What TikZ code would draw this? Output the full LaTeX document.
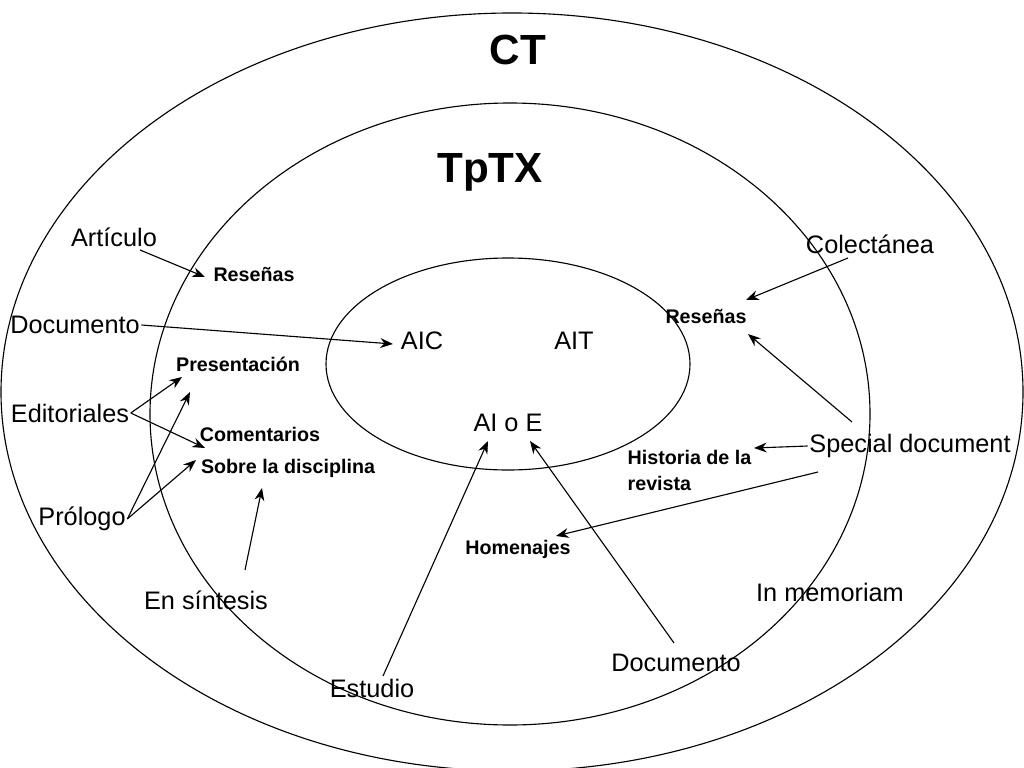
\documentclass[tikz,border=0pt]{standalone}
\usepackage{fontspec}
\setmainfont{Liberation Sans}
\usetikzlibrary{arrows.meta}
\tikzset{
    lbl/.style={font=\fontsize{18}{20}\selectfont, inner sep=1pt},
    sml/.style={font=\bfseries\fontsize{14}{16}\selectfont, inner sep=1pt},
    big/.style={font=\bfseries\fontsize{30}{32}\selectfont},
    arr/.style={-{Stealth[length=9pt,width=7pt]}, thick}
}
\begin{document}
\begin{tikzpicture}[x=0.025cm, y=-0.025cm]

\useasboundingbox (0,0) rectangle (1024,768);

% Circulos
\draw[thick] (512,392) ellipse (511 and 379);
\draw[thick] (510,414) ellipse (360 and 311);
\draw[thick] (508,364) ellipse (182 and 106);

\node[big] (ct) at (518,50) {CT};
\node[big] (tptx) at (490,172) {TpTX};

\node[lbl] (articulo) at (114,237) {Artículo};
\node[sml] (resenasI) at (254,274) {Reseñas};
\node[lbl] (colectanea) at (870,244) {Colectánea};
\node[sml] (resenasD) at (706,316) {Reseñas};
\node[lbl] (docI) at (75,325) {Documento};
\node[lbl] (aic) at (422,341) {AIC};
\node[lbl] (ait) at (574,341) {AIT};
\node[sml] (present) at (238,364) {Presentación};
\node[lbl] (editoriales) at (70,413) {Editoriales};
\node[sml] (comentarios) at (260,434) {Comentarios};
\node[sml] (sobre) at (288,468) {Sobre la disciplina};
\node[lbl] (aioe) at (508,423) {AI o E};
\node[lbl] (special) at (910,446) {Special document};
\node[sml, align=left, anchor=north west] (historia) at (626,449) {Historia de la\\[2pt]revista};
\node[lbl] (prologo) at (82,519) {Prólogo};
\node[sml] (homenajes) at (518,549) {Homenajes};
\node[lbl] (sintesis) at (206,600) {En síntesis};
\node[lbl] (memoriam) at (830,592) {In memoriam};
\node[lbl] (docD) at (676,663) {Documento};
\node[lbl] (estudio) at (372,688) {Estudio};

% Flechas
\draw[arr] (140,250) -- (205,277);
\draw[arr] (docI.east) -- (393,344);
\draw[arr] (editoriales.east) -- (182,377);
\draw[arr] (editoriales.east) -- (205,448);
\draw[arr] (prologo.east) -- (190,392);
\draw[arr] (prologo.east) -- (196,460);
\draw[arr] (245,570) -- (262,488);
\draw[arr] (383,676) -- (488,441);
\draw[arr] (674,643) -- (530,441);
\draw[arr] (848,258) -- (746,300);
\draw[arr] (852,422) -- (748,334);
\draw[arr] (special.west) -- (754,448);
\draw[arr] (818,472) -- (556,536);

\end{tikzpicture}
\end{document}
